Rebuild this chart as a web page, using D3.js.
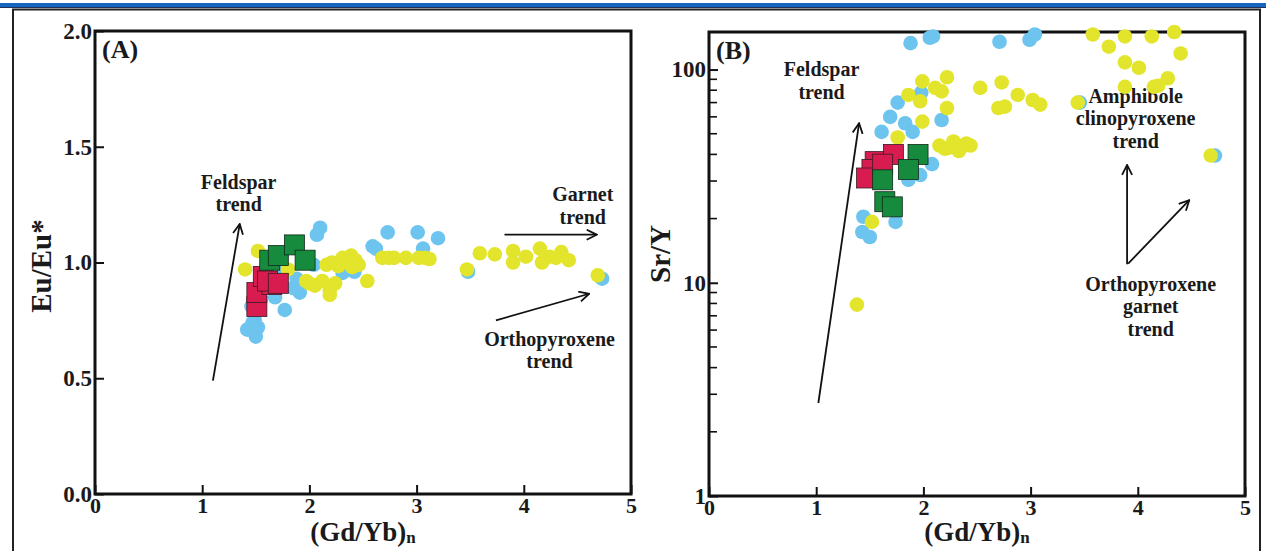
<!DOCTYPE html>
<html>
<head>
<meta charset="utf-8">
<script src="https://cdn.jsdelivr.net/npm/d3@7"></script>
<style>
  html, body { margin: 0; padding: 0; background: #fff; }
  svg { display: block; }
  text { font-family: "Liberation Serif", "Times New Roman", serif; font-weight: bold; fill: #1a1a1a; }
</style>
</head>
<body>
<svg id="chart" width="1266" height="551"></svg>
<script>
// ---- Panel A: (Gd/Yb)n vs Eu/Eu* ----
const euBlue = [
  [1.42,0.71],[1.50,0.68],[1.52,0.72],[1.49,0.75],[1.46,0.81],[1.47,0.74],
  [1.77,0.795],[1.68,0.85],[1.91,0.87],[1.85,0.89],[1.75,0.97],[1.88,0.93],[1.98,1.0],
  [2.04,0.99],[2.07,1.12],[2.10,1.15],[2.42,0.96],[2.31,0.955],
  [2.59,1.07],[2.62,1.06],[2.73,1.13],[3.01,1.13],[3.06,1.06],[3.20,1.105],
  [3.48,0.96],[4.73,0.93]
];
const euYellow = [
  [1.40,0.97],[1.52,1.05],[1.80,0.97],
  [1.97,0.92],[2.00,0.91],[2.05,0.90],[2.12,0.92],[2.19,0.88],[2.19,0.86],[2.24,0.91],
  [2.16,0.99],[2.21,1.00],[2.27,0.985],[2.31,1.02],[2.34,1.00],[2.39,1.03],[2.40,0.98],
  [2.43,1.01],[2.46,0.99],[2.54,0.92],
  [2.68,1.02],[2.74,1.02],[2.79,1.02],[2.90,1.02],[3.02,1.02],[3.08,1.02],[3.12,1.015],
  [3.47,0.97],[3.59,1.04],[3.73,1.035],[3.90,1.05],[3.90,1.00],[4.02,1.025],[4.15,1.06],
  [4.17,1.00],[4.24,1.025],[4.30,1.02],[4.35,1.045],[4.42,1.01],[4.69,0.945]
];
const euRed = [[1.51,0.81],[1.51,0.87],[1.57,0.94],[1.65,0.905],[1.61,0.92],[1.71,0.91]];
const euGreen = [[1.63,1.01],[1.71,1.03],[1.86,1.076],[1.96,1.01]];

// ---- Panel B: (Gd/Yb)n vs Sr/Y ----
const srBlue = [
  [1.88,133],[2.06,141],[2.09,143],[2.71,135],[2.99,138],[3.04,146],
  [3.46,70],[4.72,39.5],
  [1.76,70],[1.69,60],[1.61,51],[1.83,56],[1.90,51],[2.17,58],[1.98,78],
  [2.08,36],[1.97,32],[1.86,30.4],[1.74,19.3],[1.44,20.4],[1.43,17.3],[1.50,16.4]
];
const srYellow = [
  [1.38,7.9],[1.52,19.3],[1.76,48],[1.99,57],[1.86,76],[1.99,88],[1.97,71],[2.11,82],
  [2.17,79],[2.22,92],[2.22,66],
  [2.15,44],[2.20,42.5],[2.24,43],[2.28,46],[2.30,44.5],[2.33,41.5],[2.35,43],[2.40,45],[2.44,44],
  [2.53,82],[2.73,87],[2.70,66],[2.76,67],[2.88,76],[3.02,72],[3.09,68.5],[3.44,70],
  [3.58,146],[3.73,128],[3.88,143],[4.13,143],[4.34,150],[4.40,119],[3.88,108],[4.01,102],
  [3.88,83],[4.15,83],[4.19,84],[4.28,91],[4.68,39.5]
];
const srRed = [[1.55,37],[1.52,34],[1.47,31],[1.72,40],[1.62,36]];
const srGreen = [[1.95,40],[1.86,34],[1.62,30.4],[1.64,24],[1.71,22.7]];

const xTicks = [0, 1, 2, 3, 4, 5];
const euTicks = [0, 0.5, 1.0, 1.5, 2.0];
const srTicks = [1, 10, 100];
const srMinor = [2, 3, 4, 5, 6, 7, 8, 9, 20, 30, 40, 50, 60, 70, 80, 90];

const colors = { blue: "#6dc4ee", yellow: "#e2e52b", red: "#d81c50", green: "#168a3d" };

const svg = d3.select("#chart");

// header rule and outer frame
svg.append("rect").attr("x", 0).attr("y", 3).attr("width", 1266).attr("height", 4).attr("fill", "#1567c0");
svg.append("line").attr("x1", 0).attr("x2", 1266).attr("y1", 7.5).attr("y2", 7.5).attr("stroke", "#223355").attr("stroke-width", 1);
svg.append("rect").attr("x", 13).attr("y", 9.5).attr("width", 1247).attr("height", 560)
  .attr("fill", "none").attr("stroke", "#222").attr("stroke-width", 2);

// arrowhead marker
svg.append("defs").append("marker")
  .attr("id", "head").attr("viewBox", "0 0 12 12").attr("refX", 11).attr("refY", 6)
  .attr("markerWidth", 12).attr("markerHeight", 12).attr("markerUnits", "userSpaceOnUse")
  .attr("orient", "auto")
  .append("path").attr("d", "M1,1 L11,6 L1,11").attr("fill", "none")
  .attr("stroke", "#111").attr("stroke-width", 1.8);

function panel(cfg) {
  const g = svg.append("g");
  const { x, y } = cfg;
  const [x0, x1] = x.range();
  const [yb, yt] = y.range();

  // frame
  g.append("rect").attr("x", x0).attr("y", yt).attr("width", x1 - x0).attr("height", yb - yt)
    .attr("fill", "none").attr("stroke", "#111").attr("stroke-width", 3);

  // x axis (inward ticks)
  const xa = g.append("g").attr("transform", `translate(0,${yb})`)
    .call(d3.axisBottom(x).tickValues(xTicks).tickSizeInner(-9).tickSizeOuter(0).tickPadding(16).tickFormat(d3.format("d")));
  xa.select(".domain").remove();
  xa.selectAll("line").attr("stroke", "#111").attr("stroke-width", 2);
  xa.selectAll("text").attr("font-size", 22).attr("fill", "#1a1a1a").attr("dy", "0.72em").attr("y", 3);

  // y axis (inward ticks)
  const ya = g.append("g").attr("transform", `translate(${x0},0)`)
    .call(d3.axisLeft(y).tickValues(cfg.yTicks).tickSizeInner(-9).tickSizeOuter(0).tickPadding(4).tickFormat(cfg.yFormat));
  ya.select(".domain").remove();
  ya.selectAll("line").attr("stroke", "#111").attr("stroke-width", 2);
  ya.selectAll("text").attr("font-size", 23).attr("fill", "#1a1a1a").attr("x", -3);

  if (cfg.minor) {
    g.selectAll(".minor").data(cfg.minor).join("line")
      .attr("x1", x0).attr("x2", x0 + 8).attr("y1", d => y(d)).attr("y2", d => y(d))
      .attr("stroke", "#111").attr("stroke-width", 1.6);
  }

  // panel tag
  g.append("text").attr("x", x0 + 7).attr("y", yt + 27).attr("font-size", 26).text(cfg.tag);

  // axis titles
  const xt = g.append("text").attr("x", (x0 + x1) / 2).attr("y", 541).attr("text-anchor", "middle").attr("font-size", 27);
  xt.append("tspan").text("(Gd/Yb)");
  xt.append("tspan").attr("font-size", 17).attr("dy", 2).text("n");
  g.append("text").attr("transform", `translate(${cfg.yTitleX},${cfg.yTitleY}) rotate(-90)`)
    .attr("text-anchor", "middle").attr("font-size", 29).text(cfg.yTitle);

  // annotations
  cfg.arrows.forEach(a => {
    g.append("line").attr("x1", x(a[0])).attr("y1", y(a[1])).attr("x2", x(a[2])).attr("y2", y(a[3]))
      .attr("stroke", "#111").attr("stroke-width", 1.8).attr("marker-end", "url(#head)");
  });
  cfg.notes.forEach(n => {
    const t = g.append("text").attr("x", x(n.x)).attr("y", y(n.y)).attr("text-anchor", "middle").attr("font-size", 20);
    n.lines.forEach((s, i) => t.append("tspan").attr("x", x(n.x)).attr("dy", i === 0 ? 0 : 22.5).text(s));
  });

  // data marks
  const r = 7.3, s = 20;
  g.selectAll(".b").data(cfg.blue).join("circle").attr("cx", d => x(d[0])).attr("cy", d => y(d[1])).attr("r", r).attr("fill", colors.blue);
  g.selectAll(".yl").data(cfg.yellow).join("circle").attr("cx", d => x(d[0])).attr("cy", d => y(d[1])).attr("r", r).attr("fill", colors.yellow);
  g.selectAll(".rd").data(cfg.red).join("rect").attr("x", d => x(d[0]) - s / 2).attr("y", d => y(d[1]) - s / 2)
    .attr("width", s).attr("height", s).attr("fill", colors.red).attr("stroke", "#3a1a22").attr("stroke-width", 0.8);
  g.selectAll(".gr").data(cfg.green).join("rect").attr("x", d => x(d[0]) - s / 2).attr("y", d => y(d[1]) - s / 2)
    .attr("width", s).attr("height", s).attr("fill", colors.green).attr("stroke", "#0f2a18").attr("stroke-width", 0.8);
}

const xA = d3.scaleLinear().domain([0, 5]).range([95, 631]);
const yA = d3.scaleLinear().domain([0, 2]).range([494, 31]);
panel({
  x: xA, y: yA, yTicks: euTicks, yFormat: d3.format(".1f"), tag: "(A)",
  yTitle: "Eu/Eu*", yTitleX: 51, yTitleY: 266,
  blue: euBlue, yellow: euYellow, red: euRed, green: euGreen,
  arrows: [[1.10, 0.49, 1.35, 1.166], [3.82, 1.12, 4.68, 1.12], [3.74, 0.75, 4.61, 0.865]],
  notes: [
    { x: 1.34, y: 1.318, lines: ["Feldspar", "trend"] },
    { x: 4.55, y: 1.265, lines: ["Garnet", "trend"] },
    { x: 4.24, y: 0.64, lines: ["Orthopyroxene", "trend"] }
  ]
});

const xB = d3.scaleLinear().domain([0, 5]).range([709, 1245]);
const yB = d3.scaleLog().domain([1, 150]).range([496, 32]);
panel({
  x: xB, y: yB, yTicks: srTicks, yFormat: d3.format("d"), tag: "(B)", minor: srMinor,
  yTitle: "Sr/Y", yTitleX: 670, yTitleY: 254,
  blue: srBlue, yellow: srYellow, red: srRed, green: srGreen,
  arrows: [[1.02, 2.73, 1.40, 56], [3.90, 12.2, 3.90, 35.7], [3.91, 12.3, 4.48, 24.4]],
  notes: [
    { x: 1.05, y: 93, lines: ["Feldspar", "trend"] },
    { x: 3.98, y: 70, lines: ["Amphibole", "clinopyroxene", "trend"] },
    { x: 4.12, y: 9.15, lines: ["Orthopyroxene", "garnet", "trend"] }
  ]
});
</script>
</body>
</html>
